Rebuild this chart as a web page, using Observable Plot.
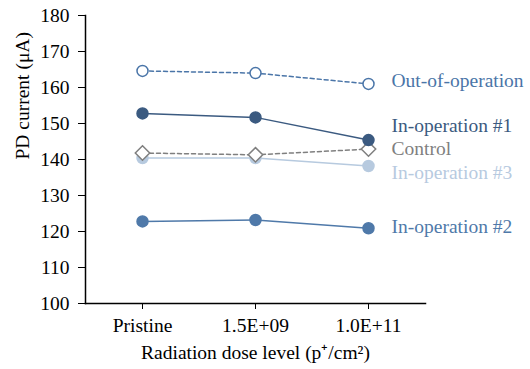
<!DOCTYPE html>
<html><head><meta charset="utf-8">
<script src="https://cdn.jsdelivr.net/npm/d3@7"></script>
<script src="https://cdn.jsdelivr.net/npm/@observablehq/plot@0.6"></script>
<style>body{margin:0;background:#fff} svg text{font-family:'Liberation Serif','Times New Roman',serif !important; font-size:19.5px !important}</style>
</head><body><div id="chart"></div>
<script>
const categories = ["Pristine", "1.5E+09", "1.0E+11"];
const seriesNames = ["In-operation #3", "In-operation #2", "Control", "In-operation #1", "Out-of-operation"];
const inOp3 = [140.4, 140.4, 138.2];
const inOp2 = [122.8, 123.2, 120.9];
const control = [141.8, 141.3, 142.9];
const inOp1 = [152.8, 151.7, 145.4];
const outOfOp = [164.6, 164.0, 161.0];
const yTicks = [100, 110, 120, 130, 140, 150, 160, 170, 180];

const values = [inOp3, inOp2, control, inOp1, outOfOp];
const styles = {
  "In-operation #3": {color: "#b7cadf", dash: null, symbol: "circle", fill: "#b7cadf", dy: 7},
  "In-operation #2": {color: "#4f79a9", dash: null, symbol: "circle", fill: "#4f79a9", dy: -2},
  "Control": {color: "#7f7f7f", dash: "4,3", symbol: "diamond2", fill: "white", dy: 0},
  "In-operation #1": {color: "#3b5a80", dash: null, symbol: "circle", fill: "#3b5a80", dy: -14},
  "Out-of-operation": {color: "#4a75a8", dash: "4,3", symbol: "circle", fill: "white", dy: -3}
};
const font = "'Liberation Serif', 'Times New Roman', serif";
const fs = 19.5;

const allMarks = [];
seriesNames.forEach((name, i) => {
  const s = styles[name];
  const data = categories.map((c, j) => ({cat: c, v: values[i][j], name}));
  allMarks.push(Plot.line(data, {x: "cat", y: "v", stroke: s.color, strokeWidth: 1.5, strokeDasharray: s.dash}));
  allMarks.push(Plot.dot(data, {x: "cat", y: "v", symbol: s.symbol, r: s.symbol === "diamond2" ? 6.5 : 5.5, fill: s.fill, stroke: s.color, strokeWidth: 1.5}));
  allMarks.push(Plot.text([data[2]], {x: "cat", y: "v", text: "name", dx: 23, dy: s.dy, textAnchor: "start", fill: s.color, fontSize: fs, fontFamily: font}));
});

const chart = Plot.plot({
  width: 530,
  height: 369,
  marginLeft: 85,
  marginRight: 105,
  marginTop: 15,
  marginBottom: 66,
  style: {fontFamily: font, fontSize: fs + "px", color: "#000", background: "white", overflow: "visible"},
  x: {type: "point", domain: categories, padding: 0.5, label: null},
  y: {domain: [100, 180], ticks: yTicks, label: null},
  marks: [
    Plot.axisY({ticks: yTicks, tickSize: 7, tickPadding: 9, fontSize: fs, label: null, stroke: "#000"}),
    Plot.axisX({tickSize: 6, tickPadding: 9, fontSize: fs, label: null, stroke: "#000"}),
    Plot.frame({anchor: "left", stroke: "#000", strokeWidth: 1.5}),
    Plot.frame({anchor: "bottom", stroke: "#000", strokeWidth: 1.5}),
    ...allMarks,
    Plot.text(["PD current (μA)"], {frameAnchor: "left", dx: -63, rotate: -90, fontSize: fs, fontFamily: font, fill: "#000"}),
    Plot.text(["Radiation dose level (p⁺/cm²)"], {frameAnchor: "bottom", dy: 55, fontSize: fs, fontFamily: font, fill: "#000"})
  ]
});
document.getElementById("chart").appendChild(chart);
</script>
</body></html>
